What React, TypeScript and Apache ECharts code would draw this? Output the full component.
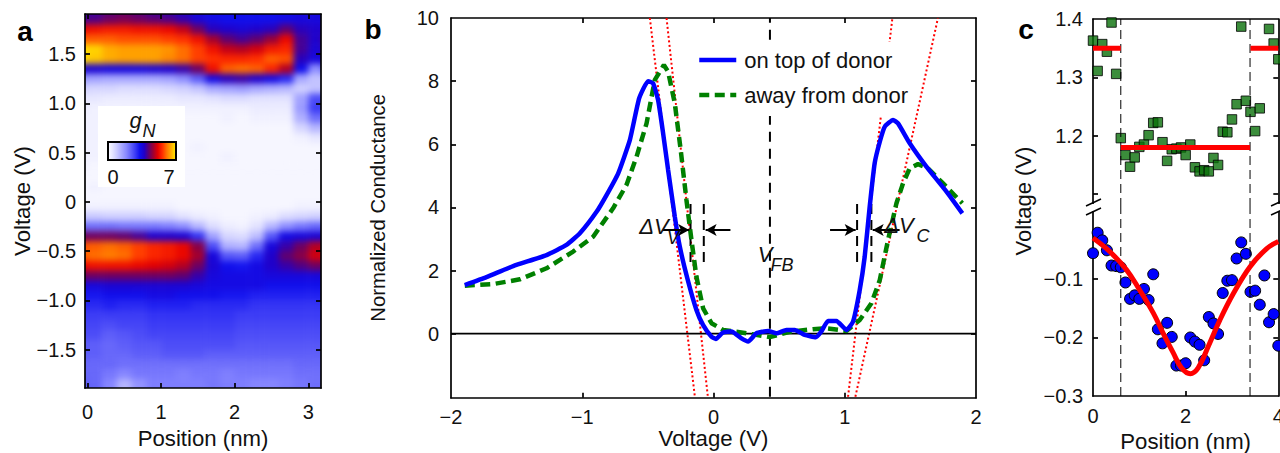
import React, { useEffect, useRef } from "react";
import * as echarts from "echarts";

const FONT = "Liberation Sans";
const INK = "#111";

// ---------- panel a: conductance map (rows top to bottom, columns left to right) ----------
const heatCols = ["-0.1","0.1","0.3","0.5","0.7","0.9","1.1","1.3","1.5","1.7","1.9","2.1","2.3","2.5","2.7","2.9","3.1","3.3"];
const heatRowLabels = ["1.95","1.85","1.75","1.65","1.55","1.45","1.35","1.25","1.15","1.05","0.95","0.85","0.75","0.65","0.55","0.45","0.35","0.25","0.15","0.05","-0.05","-0.15","-0.25","-0.35","-0.45","-0.55","-0.65","-0.75","-0.85","-0.95","-1.05","-1.15","-1.25","-1.35","-1.45","-1.55","-1.65","-1.75","-1.85","-1.95"];
const heatRows = [
  [3.9,3.9,4.1,4.2,4.1,3.9,3.8,3.6,3.4,3.3,3.3,3.3,3.3,3.3,3.3,3.4,3.4,3.4],
  [4.0,4.1,4.3,4.4,4.3,4.2,4.1,3.9,3.6,3.4,3.3,3.3,3.3,3.3,3.4,3.5,3.5,3.5],
  [5.2,5.3,5.4,5.4,5.3,5.3,5.2,4.9,4.3,3.8,3.7,3.6,3.7,3.8,4.2,3.8,3.7,3.7],
  [5.9,5.9,5.9,5.8,5.8,5.8,5.7,5.6,5.3,4.7,4.2,4.0,4.2,4.6,5.2,4.0,3.7,4.2],
  [6.9,6.8,6.5,6.4,6.4,6.4,6.3,6.0,5.7,5.3,4.9,4.8,5.0,5.4,5.5,4.0,3.6,4.0],
  [6.9,6.7,6.5,6.4,6.4,6.4,6.2,6.0,5.7,5.6,5.5,5.5,5.6,5.9,5.8,3.8,3.5,3.7],
  [3.6,3.6,3.5,3.5,3.5,3.6,3.7,3.9,4.3,5.3,5.9,6.0,5.9,5.5,4.8,3.3,1.8,2.8],
  [1.6,1.5,1.4,1.4,1.4,1.4,1.5,1.8,2.4,3.4,3.8,3.9,3.7,3.4,3.0,1.4,1.0,1.0],
  [0.8,0.7,0.7,0.6,0.6,0.6,0.7,0.8,1.0,1.4,1.5,1.6,1.4,1.3,1.2,0.8,1.0,1.0],
  [0.4,0.4,0.3,0.3,0.3,0.3,0.3,0.4,0.4,0.5,0.6,0.6,0.5,0.5,0.5,1.5,2.6,2.6],
  [0.3,0.2,0.2,0.2,0.2,0.2,0.2,0.2,0.2,0.2,0.2,0.2,0.3,0.3,0.3,1.6,2.8,2.8],
  [0.2,0.2,0.2,0.1,0.1,0.2,0.2,0.1,0.1,0.1,0.2,0.1,0.2,0.2,0.2,1.3,2.2,2.2],
  [0.2,0.2,0.1,0.1,0.1,0.1,0.1,0.1,0.1,0.1,0.1,0.1,0.1,0.1,0.1,0.7,1.2,1.2],
  [0.2,0.2,0.2,0.1,0.1,0.1,0.1,0.1,0.1,0.1,0.1,0.1,0.1,0.1,0.1,0.2,0.4,0.4],
  [0.2,0.2,0.1,0.1,0.2,0.1,0.1,0.1,0.2,0.1,0.1,0.1,0.1,0.1,0.1,0.1,0.1,0.1],
  [0.2,0.2,0.2,0.1,0.1,0.1,0.1,0.1,0.1,0.1,0.2,0.1,0.1,0.1,0.1,0.1,0.1,0.1],
  [0.2,0.1,0.1,0.2,0.1,0.1,0.2,0.1,0.1,0.1,0.1,0.1,0.1,0.1,0.1,0.1,0.1,0.1],
  [0.1,0.1,0.1,0.1,0.2,0.1,0.1,0.1,0.1,0.1,0.1,0.1,0.1,0.1,0.1,0.1,0.1,0.1],
  [0.1,0.2,0.1,0.1,0.1,0.1,0.1,0.1,0.1,0.1,0.1,0.1,0.1,0.1,0.1,0.1,0.1,0.1],
  [0.1,0.1,0.1,0.1,0.1,0.1,0.1,0.1,0.1,0.1,0.1,0.1,0.1,0.1,0.1,0.1,0.1,0.1],
  [0.2,0.2,0.2,0.2,0.2,0.2,0.2,0.1,0.1,0.1,0.1,0.1,0.1,0.1,0.1,0.2,0.2,0.2],
  [0.9,0.9,0.8,0.8,0.8,0.7,0.7,0.5,0.3,0.2,0.1,0.1,0.2,0.3,0.6,0.7,0.8,0.8],
  [2.2,2.2,2.2,2.1,2.1,2.1,2.0,1.8,1.2,0.6,0.3,0.2,0.5,1.2,1.8,2.1,2.3,2.3],
  [4.3,4.3,4.3,4.2,4.0,3.7,3.7,3.6,2.9,1.5,0.7,0.6,1.1,2.5,3.4,3.5,3.6,3.7],
  [5.8,5.9,6.0,5.9,5.7,5.5,5.4,5.2,4.5,2.6,1.3,1.2,2.2,3.5,3.9,4.3,4.8,5.0],
  [5.9,6.0,6.1,6.0,5.7,5.5,5.4,5.2,4.7,3.5,2.5,2.4,3.0,3.7,4.2,4.5,5.0,5.2],
  [5.2,5.3,5.3,5.3,5.2,5.1,5.0,4.8,4.3,3.6,3.3,3.2,3.4,3.7,3.9,4.1,4.3,4.3],
  [4.3,4.3,4.3,4.3,4.3,4.3,4.3,4.2,3.9,3.5,3.4,3.4,3.4,3.5,3.5,3.5,3.5,3.5],
  [3.5,3.5,3.6,3.6,3.6,3.6,3.6,3.6,3.5,3.4,3.4,3.4,3.4,3.3,3.3,3.3,3.3,3.3],
  [3.2,3.2,3.3,3.3,3.3,3.4,3.4,3.3,3.3,3.3,3.2,3.2,3.1,3.1,3.1,3.1,3.1,3.1],
  [3.0,3.0,3.1,3.0,3.0,3.1,3.1,3.1,3.0,3.0,3.0,3.0,2.9,2.9,2.9,2.9,2.9,2.9],
  [2.8,2.8,2.8,2.8,2.8,2.9,2.9,2.9,2.9,2.9,2.9,2.8,2.8,2.8,2.8,2.8,2.8,2.8],
  [2.7,2.7,2.6,2.7,2.7,2.8,2.8,2.8,2.8,2.8,2.8,2.7,2.7,2.7,2.7,2.7,2.7,2.7],
  [2.6,2.6,2.4,2.5,2.6,2.7,2.7,2.7,2.7,2.7,2.7,2.6,2.6,2.6,2.6,2.6,2.6,2.6],
  [2.4,2.4,2.3,2.4,2.5,2.5,2.6,2.6,2.6,2.6,2.6,2.5,2.5,2.5,2.5,2.5,2.5,2.5],
  [2.4,2.4,2.3,2.3,2.4,2.4,2.5,2.5,2.5,2.4,2.4,2.4,2.4,2.4,2.4,2.4,2.4,2.4],
  [2.3,2.3,2.3,2.2,2.2,2.2,2.2,2.2,2.2,2.2,2.2,2.2,2.2,2.2,2.2,2.3,2.3,2.3],
  [2.3,2.3,2.1,1.9,2.1,2.1,2.1,2.0,2.1,2.1,2.0,2.1,2.1,2.1,2.1,2.2,2.2,2.2],
  [2.4,2.3,1.9,1.2,1.7,2.0,2.0,2.0,2.0,2.1,2.0,2.0,1.9,1.9,2.0,2.1,2.2,2.2],
  [2.5,2.4,2.0,1.2,1.8,2.1,2.1,2.1,2.1,2.1,2.1,2.1,2.0,2.0,2.1,2.2,2.3,2.3],
];
const heatColors = ["#fbfbff","#e4e4ff","#c8c8ff","#a8a8ff","#8a8aff","#6464fa","#3c3cf5","#1010ee","#2000c8","#600070","#a00030","#e60000","#ff3000","#ff7800","#ffb000","#ffee00"];

// ---------- panel b: conductance spectra ----------
const onDonor = [[-1.895,1.54],[-1.73,1.79],[-1.526,2.14],[-1.272,2.49],[-1.12,2.81],[-1.018,3.18],[-0.891,3.86],[-0.815,4.39],[-0.726,5.08],[-0.637,6.14],[-0.566,7.46],[-0.498,8.0],[-0.46,7.93],[-0.422,7.4],[-0.384,6.35],[-0.346,5.19],[-0.295,3.71],[-0.257,2.76],[-0.196,1.7],[-0.13,0.75],[-0.08,0.28],[-0.015,-0.1],[0.018,-0.17],[0.07,0.03],[0.137,0.07],[0.213,-0.15],[0.264,-0.25],[0.327,0.01],[0.416,0.085],[0.48,0.01],[0.556,0.117],[0.619,0.117],[0.695,-0.04],[0.779,-0.115],[0.822,0.07],[0.873,0.4],[0.937,0.4],[1.013,0.117],[1.063,0.38],[1.114,1.38],[1.152,2.44],[1.19,4.02],[1.228,5.4],[1.267,6.08],[1.305,6.56],[1.368,6.77],[1.406,6.66],[1.495,6.03],[1.622,5.29],[1.775,4.5],[1.896,3.81]];
const awayDonor = [[-1.895,1.52],[-1.679,1.57],[-1.475,1.72],[-1.272,2.07],[-1.069,2.6],[-0.917,3.07],[-0.765,3.97],[-0.663,4.71],[-0.586,5.61],[-0.51,6.66],[-0.447,8.04],[-0.378,8.51],[-0.346,8.3],[-0.295,7.3],[-0.25,5.82],[-0.206,4.23],[-0.168,2.97],[-0.13,1.8],[-0.079,0.8],[-0.015,0.33],[0.073,0.117],[0.225,0.03],[0.429,-0.11],[0.58,0.06],[0.759,0.14],[0.86,0.17],[1.013,0.085],[1.114,0.43],[1.203,0.96],[1.267,1.7],[1.33,2.97],[1.394,4.13],[1.444,4.76],[1.495,5.24],[1.558,5.37],[1.634,5.24],[1.749,4.76],[1.896,4.13]];
const fitLines = [
  [[-0.485,10],[-0.142,-2]],
  [[-0.358,10],[-0.043,-2]],
  [[1.025,-2],[1.363,10]],
  [[1.081,-2],[1.71,10]],
];
const zeroLine = [[-2,0],[2,0]];
const vfbLine = [[0.43,-2],[0.43,10]];
const shiftMarkers = [-0.175,-0.074,1.094,1.203];
const shiftRange = [2.27,4.3];
const arrowLevel = 3.28;
const arrowSpans = [[-0.385,-0.185],[0.129,-0.06],[0.888,1.083],[1.418,1.213]];

// ---------- panel c: band edges versus position ----------
const positions = [0,0.1,0.2,0.3,0.4,0.5,0.6,0.7,0.8,0.9,1.0,1.1,1.2,1.3,1.4,1.5,1.6,1.7,1.8,1.9,2.0,2.1,2.2,2.3,2.4,2.5,2.6,2.7,2.8,2.9,3.0,3.1,3.2,3.3,3.4,3.5,3.6,3.7,3.8,3.9,4.0];
const conductionEdge = [1.363,1.311,1.357,1.344,1.394,1.306,1.196,1.167,1.147,1.163,1.181,1.185,1.201,1.222,1.223,1.189,1.157,1.177,1.178,1.18,1.167,1.185,1.146,1.139,1.141,1.139,1.162,1.15,1.207,1.206,1.228,1.254,1.387,1.26,1.241,1.208,1.247,null,1.383,1.358,1.331];
const valenceEdge = [-0.056,-0.021,-0.034,-0.051,-0.077,-0.078,-0.08,-0.106,-0.134,-0.128,-0.134,-0.117,-0.136,-0.092,-0.186,-0.21,-0.175,-0.199,-0.248,-0.248,-0.244,-0.2,-0.207,-0.2125,-0.239,-0.165,-0.176,-0.194,-0.124,-0.103,-0.102,-0.065,-0.0375,-0.057,-0.122,-0.12,-0.144,-0.094,-0.174,-0.16,-0.214];
const stepLeft = [[0,1.35],[0.6,1.35]];
const stepMid = [[0.6,1.18],[3.39,1.18]];
const stepRight = [[3.4,1.35],[4,1.35]];
const valenceFit = [[0,-0.03],[0.36,-0.053],[0.72,-0.084],[1.0,-0.118],[1.3,-0.158],[1.51,-0.192],[1.73,-0.226],[1.91,-0.252],[2.1,-0.262],[2.27,-0.252],[2.49,-0.215],[2.74,-0.17],[3.03,-0.125],[3.39,-0.079],[3.75,-0.048],[4,-0.036]];
const dropLinesX = [0.6,3.39];

const minusFmt = (v: number, digits: number) => {
  const s = Math.abs(v).toFixed(digits);
  return v < 0 ? "\u2212" + s : s;
};

const labelStyle = { fontFamily: FONT, fontSize: 20, color: INK };
const lineAxis = { show: true, onZero: false, lineStyle: { color: "#000", width: 1.7 } };
const tickIn = (values: number[]) => ({ show: true, inside: true, length: 5, customValues: values, lineStyle: { color: "#000", width: 1.7 } });

function frameAxis(gridIndex: number, position: string, min: number, max: number, ticks: number[], extra: any = {}) {
  return {
    type: "value", gridIndex, position, min, max, splitLine: { show: false },
    axisLine: lineAxis, axisTick: tickIn(ticks), axisLabel: { show: false }, ...extra,
  };
}
function labelled(values: number[], fmt: (v: number) => string, margin: number) {
  return { axisLabel: { show: true, customValues: values, formatter: fmt, margin, ...labelStyle, hideOverlap: false } };
}
function nameOf(name: string, nameGap: number, fontSize = 22.2) {
  return { name, nameLocation: "middle", nameGap, nameMoveOverlap: false, nameTextStyle: { fontFamily: FONT, fontSize, color: INK } };
}

function staticText(text: string, x: number, y: number, fontSize: number, extra: any = {}) {
  return { type: "text", x, y, z: 30, style: { text, fontFamily: FONT, fontSize, fill: INK, align: "center", verticalAlign: "middle", ...extra } };
}

function breakMark(x: number) {
  return [
    { type: "rect", z: 30, shape: { x: x - 8, y: 204, width: 16, height: 7 }, style: { fill: "#fff" } },
    { type: "line", z: 31, shape: { x1: x - 7, y1: 206, x2: x + 8, y2: 199 }, style: { stroke: "#000", lineWidth: 1.5 } },
    { type: "line", z: 31, shape: { x1: x - 7, y1: 215, x2: x + 8, y2: 208 }, style: { stroke: "#000", lineWidth: 1.5 } },
  ];
}

function mainOption(): any {
  const plain = (data: any, color: string, width: number, type: any, xi: number, yi: number, extra: any = {}) => ({
    type: "line", xAxisIndex: xi, yAxisIndex: yi, data, showSymbol: false, symbol: "none", silent: true,
    lineStyle: { color, width, type }, itemStyle: { color }, ...extra,
  });
  const markerSeries = shiftMarkers.map((x) => plain(shiftRange.map((g) => [x, g]), "#000", 2, [10, 6], 2, 2));
  const dropUpper = dropLinesX.map((x) => plain([[x, 1.078], [x, 1.4]], "#000", 1, [9, 5], 4, 4));
  const dropLower = dropLinesX.map((x) => plain([[x, -0.3], [x, 0.023]], "#000", 1, [9, 5], 5, 6));

  return {
    animation: false,
    backgroundColor: "transparent",
    textStyle: { fontFamily: FONT },
    legend: {
      data: ["on top of donor", "away from donor"],
      left: 683, top: 42, orient: "vertical", backgroundColor: "#fff",
      padding: [7, 5, 10, 14], itemWidth: 37, itemHeight: 14, itemGap: 13,
      itemStyle: { color: "transparent", borderColor: "transparent", borderWidth: 0, opacity: 0 },
      lineStyle: { width: 4.5 },
      textStyle: { fontFamily: FONT, fontSize: 22, color: INK, padding: [0, 0, 0, 3] },
    },
    grid: [
      { left: 85, top: 14, width: 236, height: 374, outerBoundsMode: "none" },
      { left: 451, top: 18, width: 525, height: 379.7, outerBoundsMode: "none" },
      { left: 1093, top: 19, width: 185.3, height: 188, outerBoundsMode: "none" },
      { left: 1093, top: 207, width: 185.3, height: 189, outerBoundsMode: "none" },
    ],
    xAxis: [
      frameAxis(0, "bottom", -0.034, 3.173, [0, 1, 2, 3], { ...labelled([0, 1, 2, 3], (v: number) => String(v), 14), ...nameOf("Position (nm)", 39) }),
      frameAxis(0, "top", -0.034, 3.173, [0, 1, 2, 3]),
      frameAxis(1, "bottom", -2, 2, [-1, 0, 1], { ...labelled([-2, -1, 0, 1, 2], (v: number) => minusFmt(v, 0), 9), ...nameOf("Voltage (V)", 30) }),
      frameAxis(1, "top", -2, 2, [-1, 0, 1]),
      frameAxis(2, "top", 0, 4, []),
      frameAxis(3, "bottom", 0, 4, [2], { ...labelled([0, 2, 4], (v: number) => String(v), 10), ...nameOf("Position (nm)", 34) }),
    ],
    yAxis: [
      frameAxis(0, "left", -1.89, 1.906, [-1.5, -1, -0.5, 0, 0.5, 1, 1.5], { ...labelled([-1.5, -1, -0.5, 0, 0.5, 1, 1.5], (v: number) => (v === 0 ? "0" : minusFmt(v, 1)), 9), ...nameOf("Voltage (V)", 52) }),
      frameAxis(0, "right", -1.89, 1.906, [-1.5, -1, -0.5, 0, 0.5, 1, 1.5]),
      frameAxis(1, "left", -2.03, 10, [0, 2, 4, 6, 8], { ...labelled([0, 2, 4, 6, 8, 10], (v: number) => String(v), 12), ...nameOf("Normalized Conductance", 63, 20.3) }),
      frameAxis(1, "right", -2.03, 10, [0, 2, 4, 6, 8]),
      frameAxis(2, "left", 1.078, 1.4, [1.1, 1.2, 1.3], labelled([1.2, 1.3, 1.4], (v: number) => v.toFixed(1), 10)),
      frameAxis(2, "right", 1.078, 1.4, [1.1, 1.2, 1.3]),
      frameAxis(3, "left", -0.3, 0.023, [-0.2, -0.1], labelled([-0.3, -0.2, -0.1], (v: number) => minusFmt(v, 1), 10)),
      frameAxis(3, "right", -0.3, 0.023, [-0.2, -0.1]),
    ],
    series: [
      ...fitLines.map((d) => plain(d, "#ff0000", 2, [2, 2.5], 2, 2)),
      plain(zeroLine, "#000", 1.7, "solid", 2, 2),
      plain(vfbLine, "#000", 2, [10, 7], 2, 2),
      ...markerSeries,
      {
        type: "line", xAxisIndex: 2, yAxisIndex: 2, data: [], silent: true,
        markLine: {
          silent: true, animation: false, symbol: ["none", "arrow"], symbolSize: [9, 11],
          label: { show: false }, lineStyle: { color: "#000", width: 2, type: "solid" },
          data: arrowSpans.map(([a, b]) => [{ coord: [a, arrowLevel] }, { coord: [b, arrowLevel] }]),
        },
      },
      { ...plain(awayDonor, "#008000", 4.5, [10, 5.5], 2, 2), name: "away from donor" },
      { ...plain(onDonor, "#0000ff", 4.5, "solid", 2, 2), name: "on top of donor", smooth: 0.15 },
      ...dropUpper,
      ...dropLower,
      plain(stepLeft, "#ff0000", 5, "solid", 4, 4),
      plain(stepMid, "#ff0000", 5, "solid", 4, 4),
      plain(stepRight, "#ff0000", 5, "solid", 4, 4),
      plain(valenceFit, "#ff0000", 5, "solid", 5, 6, { smooth: 0.4 }),
      {
        type: "scatter", xAxisIndex: 4, yAxisIndex: 4, clip: false, symbol: "rect", symbolSize: 9.5, silent: true,
        itemStyle: { color: "#0a700a", borderColor: "#000", borderWidth: 1 },
        data: positions.map((p, i) => [p, conductionEdge[i]]).filter((d) => d[1] !== null),
      },
      {
        type: "scatter", xAxisIndex: 5, yAxisIndex: 6, clip: false, symbol: "circle", symbolSize: 11, silent: true,
        itemStyle: { color: "#0000ff", borderColor: "#000", borderWidth: 1, opacity: 1 },
        data: positions.map((p, i) => [p, valenceEdge[i]]),
      },
    ],
    graphic: [
      { type: "rect", z: 20, shape: { x: 98, y: 106, width: 87, height: 81 }, style: { fill: "#fff" } },
      {
        type: "rect", z: 21, shape: { x: 108, y: 142, width: 68, height: 18 },
        style: {
          stroke: "#000", lineWidth: 2,
          fill: new echarts.graphic.LinearGradient(0, 0, 1, 0,
            heatColors.map((color, i) => ({ offset: i / (heatColors.length - 1), color }))),
        },
      },
      staticText("g", 135.5, 120, 22, { fontStyle: "italic" }),
      staticText("N", 149, 131, 18, { fontStyle: "italic" }),
      staticText("0", 113, 177, 20),
      staticText("7", 169, 177, 20),
      staticText("a", 25, 31, 28, { fontWeight: "bold", fill: "#000" }),
      staticText("b", 373, 29, 28, { fontWeight: "bold", fill: "#000" }),
      staticText("c", 1026, 29, 28, { fontWeight: "bold", fill: "#000" }),
      staticText("\u0394V", 654, 226, 22, { fontStyle: "italic" }),
      staticText("V", 673, 238, 18, { fontStyle: "italic" }),
      staticText("V", 765, 254, 22, { fontStyle: "italic" }),
      staticText("FB", 782, 265, 18, { fontStyle: "italic" }),
      staticText("\u0394V", 899, 225, 22, { fontStyle: "italic" }),
      staticText("C", 923, 236, 18, { fontStyle: "italic" }),
      { ...staticText("Voltage (V)", 1023, 201, 22), rotation: Math.PI / 2 },
      ...breakMark(1093),
      ...breakMark(1278),
    ],
  };
}

function heatOption(): any {
  const data: number[][] = [];
  heatRows.forEach((row, r) => row.forEach((v, c) => data.push([c, r, v])));
  return {
    animation: false,
    grid: { left: 0, top: 0, right: 0, bottom: 0 },
    xAxis: { type: "category", data: heatCols, show: false, boundaryGap: true },
    yAxis: { type: "category", data: heatRowLabels, show: false, inverse: true, boundaryGap: true },
    visualMap: { show: false, min: 0, max: 7, inRange: { color: heatColors }, calculable: false, seriesIndex: 0 },
    series: [{ type: "heatmap", data, silent: true, itemStyle: { borderWidth: 0 } }],
  };
}

export default function App() {
  const heatRef = useRef<HTMLDivElement>(null);
  const mainRef = useRef<HTMLDivElement>(null);
  useEffect(() => {
    document.body.style.margin = "0";
    const heat = echarts.init(heatRef.current!, null, { renderer: "svg" });
    heat.setOption(heatOption());
    const main = echarts.init(mainRef.current!, null, { renderer: "svg" });
    main.setOption(mainOption());
    return () => {
      heat.dispose();
      main.dispose();
    };
  }, []);
  return (
    <div style={{ position: "absolute", left: 0, top: 0, width: 1280, height: 453, overflow: "hidden", background: "#fff" }}>
      <div style={{ position: "absolute", left: 85, top: 14, width: 236, height: 374, overflow: "hidden" }}>
        <div ref={heatRef} style={{ position: "absolute", left: -12, top: -9, width: 265, height: 394, filter: "blur(3.4px)" }} />
      </div>
      <div ref={mainRef} style={{ position: "absolute", left: 0, top: 0, width: 1280, height: 453 }} />
    </div>
  );
}
